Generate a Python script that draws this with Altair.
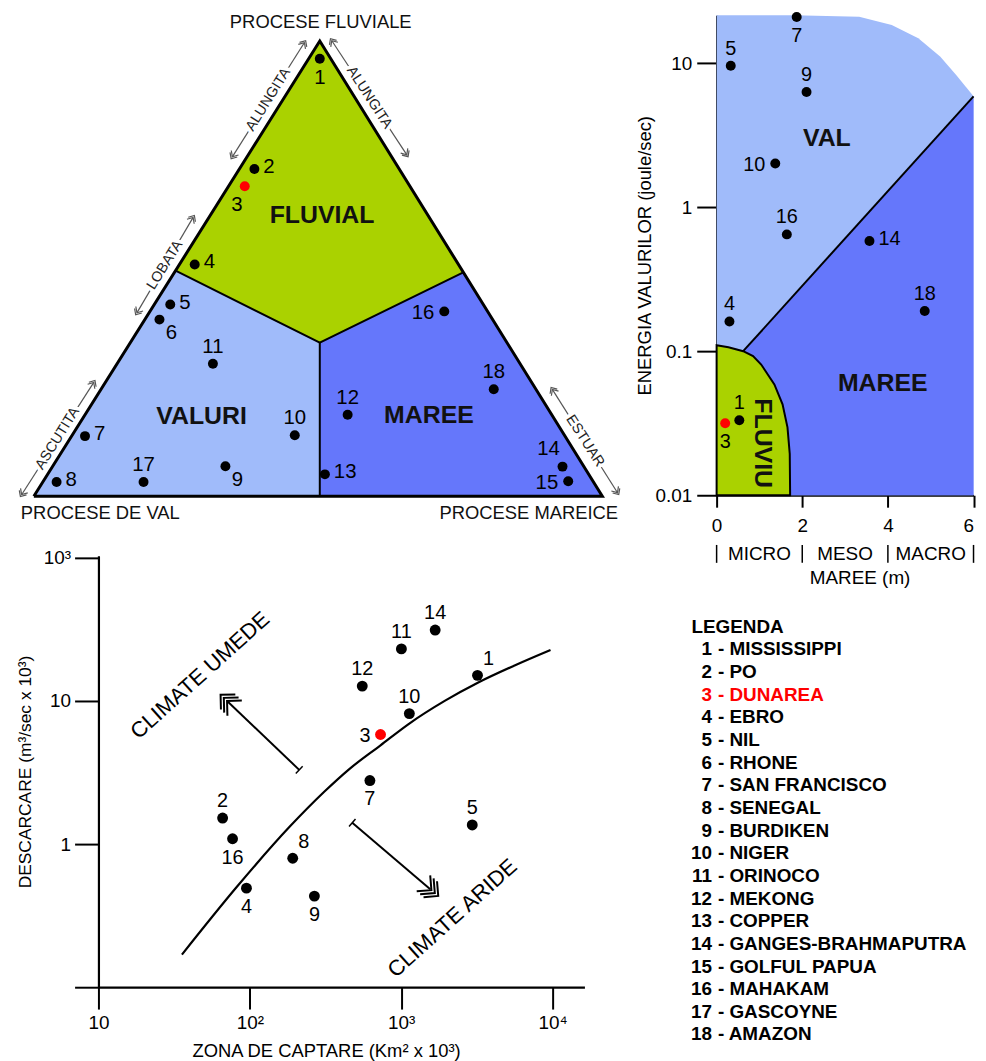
import altair as alt
import pandas as pd

FONT = "Liberation Sans"
RED = "#ff0000"
GREEN = "#aad200"
LIGHT = "#a0bbfa"
BLUE = "#6577fb"

# ================= DATA =================
# ---- ternary diagram (normalised triangle coords: base 0..1, apex height 1) ----
tern_ids = list(range(1, 19))
tern_u = [0.503, 0.388, 0.371, 0.283, 0.240, 0.221, 0.090, 0.040, 0.337,
          0.459, 0.315, 0.552, 0.512, 0.930, 0.940, 0.722, 0.193, 0.809]
tern_v = [0.961, 0.719, 0.681, 0.509, 0.421, 0.388, 0.132, 0.031, 0.066,
          0.134, 0.291, 0.179, 0.048, 0.065, 0.033, 0.406, 0.031, 0.235]
tern_pos = ["b", "r", "bl", "r", "r", "br", "r", "r", "br",
            "a", "a", "a", "r", "al", "l", "l", "a", "a"]

fl_u = [0.2493, 0.503, 0.7555]
fl_top = [0.4956, 1.0, 0.4919]
fl_bot = [0.4956, 0.3373, 0.4919]
va_u = [0.0, 0.2493, 0.503]
va_top = [0.0, 0.4956, 0.3373]
ma_u = [0.503, 0.7555, 1.0]
ma_top = [0.3373, 0.4919, 0.0]

tri_u = [0.0, 0.503, 1.0, 0.0]
tri_v = [0.0, 1.0, 0.0, 0.0]
inner_u = [0.2493, 0.503, 0.7555]
inner_v = [0.4956, 0.3373, 0.4919]
div_u = [0.503, 0.503]
div_v = [0.3373, 0.0]

side_text = ["ALUNGITA", "LOBATA", "ASCUTITA", "ALUNGITA", "ESTUAR"]
side_u1 = [0.3497, 0.1818, -0.021, 0.5245, 0.9126]
side_v1 = [0.7467, 0.4039, 0.0044, 1.0, 0.2336]
side_u2 = [0.4755, 0.2797, 0.1049, 0.6556, 1.0262]
side_v2 = [0.9956, 0.6114, 0.2489, 0.7511, 0.0087]
side_side = ["left", "left", "left", "right", "right"]

tern_regions = ["FLUVIAL", "VALURI", "MAREE"]
tern_reg_u = [0.507, 0.295, 0.695]
tern_reg_v = [0.618, 0.177, 0.179]
corner_text = ["PROCESE FLUVIALE", "PROCESE DE VAL", "PROCESE MAREICE"]
corner_u = [0.5047, 0.117, 0.8706]
corner_v = [1.0415, -0.0371, -0.0371]

# ---- tide / wave energy diagram ----
tide_ids = [1, 3, 4, 5, 7, 9, 10, 14, 16, 18]
tide_x = [0.53, 0.20, 0.30, 0.33, 1.87, 2.10, 1.37, 3.57, 1.64, 4.86]
tide_y = [0.0332, 0.0316, 0.161, 9.6, 20.9, 6.3, 2.01, 0.583, 0.647, 0.19]
tide_pos = ["a", "b", "a", "a", "b", "a", "l", "r", "a", "a"]

val_x = [0.0, 1.81, 3.33, 4.09, 4.71, 5.22, 5.59, 6.0]
val_top = [21.5, 21.5, 20.96, 18.4, 14.9, 11.1, 8.3, 5.88]
mar_x = [0.62, 6.0]
mar_top = [0.1, 5.88]
flv_x = [0.0, 0.276, 0.621, 0.851, 1.041, 1.349, 1.54, 1.655, 1.708, 1.717]
flv_top = [0.110, 0.1066, 0.1, 0.0924, 0.0808, 0.0588, 0.0428, 0.0296, 0.0194, 0.01]

tide_regions = ["VAL", "MAREE", "FLUVIU"]
tide_reg_x = [2.575, 3.88, 1.08]
tide_reg_y = [3.04, 0.0598, 0.023]
tide_xticks = [0, 2, 4, 6]
tide_yticks = [0.01, 0.1, 1, 10]
range_names = ["MICRO", "MESO", "MACRO"]
range_centers = [1, 3, 5]

# ---- discharge vs catchment ----
dis_ids = [1, 2, 3, 4, 5, 7, 8, 9, 10, 11, 12, 14, 16]
dis_area = [3191, 66.1, 730, 95, 2946, 621, 192, 267, 1132, 1003, 553, 1676, 76.9]
dis_flow = [15.1, 1.52, 5.83, 0.492, 1.36, 2.78, 0.796, 0.433, 8.16, 23.1, 12.7, 31.3, 1.09]
dis_pos = ["ar", "a", "l", "b", "a", "b", "ar", "b", "a", "a", "a", "a", "b"]

curve_x = [35.6, 82.4, 183, 310, 452, 730, 1119, 1950, 3229, 5610, 9690]
curve_y = [0.169, 0.505, 1.32, 2.32, 3.33, 4.9, 6.9, 10.05, 13.46, 17.7, 22.7]

arrow_names = ["CLIMATE UMEDE", "CLIMATE ARIDE"]
arrow_x1 = [212, 475]
arrow_y1 = [3.30, 1.41]
arrow_x2 = [71.9, 1556]
arrow_y2 = [9.84, 0.484]
arrow_dir = [223.6, 40.3]
arrow_text_x = [46.9, 2178]
arrow_text_y = [15.1, 0.304]

dis_xticks = [10, 100, 1000, 10000]
dis_xlabels = ["10", "10²", "10³", "10⁴"]
dis_yticks = [0.1, 1, 10, 100]
dis_ylabels = ["", "1", "10", "10³"]

# ---- legend ----
legend_names = ["MISSISSIPPI", "PO", "DUNAREA", "EBRO", "NIL", "RHONE",
                "SAN FRANCISCO", "SENEGAL", "BURDIKEN", "NIGER", "ORINOCO",
                "MEKONG", "COPPER", "GANGES-BRAHMAPUTRA", "GOLFUL PAPUA",
                "MAHAKAM", "GASCOYNE", "AMAZON"]

# ================= HELPERS =================
OFFS = {
    "a": dict(dx=0, dy=-17, align="center"),
    "b": dict(dx=0, dy=19, align="center"),
    "r": dict(dx=9, dy=-2, align="left"),
    "l": dict(dx=-10, dy=2, align="right"),
    "bl": dict(dx=-8, dy=19, align="center"),
    "br": dict(dx=12, dy=14, align="center"),
    "al": dict(dx=-14, dy=-18, align="center"),
    "ar": dict(dx=11, dy=-16, align="center"),
}


def point_layers(df, X, Y, size, fsize):
    layers = [alt.Chart(df).mark_circle(size=size, opacity=1).encode(
        x=X, y=Y,
        color=alt.condition(alt.datum.id == 3, alt.value(RED), alt.value("black")))]
    for c in sorted(set(df["pos"])):
        o = OFFS[c]
        layers.append(
            alt.Chart(df).transform_filter(alt.datum.pos == c).mark_text(
                font=FONT, fontSize=fsize, baseline="middle", color="black", **o
            ).encode(x=X, y=Y, text="label:N"))
    return layers


def label_expr(values, labels):
    parts = " : ".join(f"datum.value == {v} ? '{l}'" for v, l in zip(values, labels))
    return parts + " : ''"


CHEV3 = "M-0.6,-0.7L0.1,0L-0.6,0.7M-0.3,-0.7L0.4,0L-0.3,0.7M0,-0.7L0.7,0L0,0.7"
CHEV2 = "M-0.9,-0.9L0.1,0L-0.9,0.9M-0.4,-0.9L0.6,0L-0.4,0.9"
BAR = "M0,-1L0,1"

# ================= TERNARY =================
# plot area starts where the discharge plot starts (concat columns align plot origins);
# the triangle's left part is drawn to the left of that origin
TXS = alt.Scale(domain=[0.11364, 1.04371], nice=False, zero=False)
TYS = alt.Scale(domain=[-0.0787, 1.0567], nice=False, zero=False)
TX = alt.X("x:Q", scale=TXS, axis=None)
TY = alt.Y("y:Q", scale=TYS, axis=None, stack=None)

rows = []
for name, us, tops, bots in [("VALURI", va_u, va_top, [0.0] * 3),
                             ("MAREE", ma_u, ma_top, [0.0] * 3),
                             ("FLUVIAL", fl_u, fl_top, fl_bot)]:
    for a, b, c in zip(us, tops, bots):
        rows.append(dict(region=name, x=a, y=b, y0=c))
t_areas = alt.Chart(pd.DataFrame(rows)).mark_area(opacity=1).encode(
    x=TX, y=TY, y2="y0:Q", detail="region:N",
    color=alt.Color("region:N", legend=None,
                    scale=alt.Scale(domain=["VALURI", "MAREE", "FLUVIAL"], range=[LIGHT, BLUE, GREEN])))

outline_df = pd.DataFrame({"x": tri_u, "y": tri_v, "o": range(len(tri_u))})
t_outline = alt.Chart(outline_df).mark_line(color="black", strokeWidth=3, strokeJoin="miter").encode(
    x=TX, y=TY, order="o:Q")
inner_rows = [dict(seg="a", x=a, y=b, o=i) for i, (a, b) in enumerate(zip(inner_u, inner_v))]
inner_rows += [dict(seg="b", x=a, y=b, o=i) for i, (a, b) in enumerate(zip(div_u, div_v))]
t_inner = alt.Chart(pd.DataFrame(inner_rows)).mark_line(color="black", strokeWidth=2).encode(
    x=TX, y=TY, detail="seg:N", order="o:Q")

side_df = pd.DataFrame({"text": side_text, "x": side_u1, "y": side_v1,
                        "x2": side_u2, "y2": side_v2, "side": side_side})
side_df["tx"] = (side_df["x"] + side_df["x2"]) / 2
side_df["ty"] = (side_df["y"] + side_df["y2"]) / 2
side_df["tang"] = [302 if s == "left" else 57 for s in side_side]
t_side_rule = alt.Chart(side_df).mark_rule(color="#555555", strokeWidth=1.2).encode(
    x=TX, y=TY, x2="x2:Q", y2="y2:Q")
head_rows = []
for a, b, c, d, s in zip(side_u1, side_v1, side_u2, side_v2, side_side):
    head_rows.append(dict(x=a, y=b, ang=122 if s == "left" else 237))
    head_rows.append(dict(x=c, y=d, ang=302 if s == "left" else 57))
t_side_heads = alt.Chart(pd.DataFrame(head_rows)).mark_point(
    shape=CHEV2, size=90, filled=False, color="#555555", strokeWidth=1.2, opacity=1).encode(
    x=TX, y=TY, angle=alt.Angle("ang:Q", scale=None))
t_side_halo = alt.Chart(side_df).mark_text(
    font=FONT, fontSize=14.5, stroke="white", strokeWidth=7, color="white", baseline="middle").encode(
    x=alt.X("tx:Q", scale=TXS, axis=None), y=alt.Y("ty:Q", scale=TYS, axis=None),
    text="text:N", angle=alt.Angle("tang:Q", scale=None))
t_side_text = alt.Chart(side_df).mark_text(
    font=FONT, fontSize=14.5, color="#222222", baseline="middle").encode(
    x=alt.X("tx:Q", scale=TXS, axis=None), y=alt.Y("ty:Q", scale=TYS, axis=None),
    text="text:N", angle=alt.Angle("tang:Q", scale=None))

tern_df = pd.DataFrame({"id": tern_ids, "x": tern_u, "y": tern_v, "pos": tern_pos})
tern_df["label"] = tern_df["id"].astype(str)
t_points = point_layers(tern_df, TX, TY, 100, 20.5)

t_reg = alt.Chart(pd.DataFrame({"x": tern_reg_u, "y": tern_reg_v, "t": tern_regions})).mark_text(
    font=FONT, fontSize=25, fontWeight="bold", color="#111111", baseline="middle").encode(
    x=TX, y=TY, text="t:N")
t_corner = alt.Chart(pd.DataFrame({"x": corner_u, "y": corner_v, "t": corner_text})).mark_text(
    font=FONT, fontSize=18.5, color="#111111", baseline="middle").encode(
    x=TX, y=TY, text="t:N")

tern = alt.layer(t_areas, t_inner, t_outline, t_side_rule, t_side_heads, t_side_halo,
                 t_side_text, *t_points, t_reg, t_corner).properties(width=532, height=520)

# ================= TIDE / WAVE =================
WX = alt.X("x:Q", scale=alt.Scale(domain=[0, 6], nice=False, zero=False),
           axis=alt.Axis(values=tide_xticks, title=None, tickSize=12, labelPadding=9,
                         labelFontSize=19, labelFlush=False, labelOverlap=False,
                         labelAlign={"condition": {"test": "datum.value == 6", "value": "right"},
                                     "value": "center"}))
WY = alt.Y("y:Q", scale=alt.Scale(type="log", domain=[0.01, 21.5], nice=False),
           axis=alt.Axis(values=tide_yticks, format="~g", title="ENERGIA VALURILOR (joule/sec)",
                         titleX=-73, titleBaseline="middle", titleFontSize=18.5, tickSize=20,
                         labelPadding=5, labelFontSize=19, labelFlush=False, labelOverlap=False),
           stack=None)

w_val = alt.Chart(pd.DataFrame({"x": val_x, "y": val_top, "y0": [0.01] * len(val_x)})).mark_area(
    color=LIGHT, opacity=1).encode(x=WX, y=WY, y2="y0:Q")
w_mar = alt.Chart(pd.DataFrame({"x": mar_x, "y": mar_top, "y0": [0.01] * len(mar_x)})).mark_area(
    color=BLUE, opacity=1).encode(x=WX, y=WY, y2="y0:Q")
w_diag = alt.Chart(pd.DataFrame({"x": mar_x, "y": mar_top})).mark_line(
    color="black", strokeWidth=2).encode(x=WX, y=WY)
w_flv = alt.Chart(pd.DataFrame({"x": flv_x, "y": flv_top, "y0": [0.01] * len(flv_x)})).mark_area(
    color=GREEN, opacity=1, stroke="black", strokeWidth=2).encode(x=WX, y=WY, y2="y0:Q")

tide_df = pd.DataFrame({"id": tide_ids, "x": tide_x, "y": tide_y, "pos": tide_pos})
tide_df["label"] = tide_df["id"].astype(str)
w_points = point_layers(tide_df, WX, WY, 100, 20)

reg_df = pd.DataFrame({"x": tide_reg_x, "y": tide_reg_y, "t": tide_regions,
                       "a": [0, 0, 90]})
w_reg = alt.Chart(reg_df).mark_text(
    font=FONT, fontSize=25, fontWeight="bold", color="#111111", baseline="middle").encode(
    x=WX, y=WY, text="t:N", angle=alt.Angle("a:Q", scale=None))

bars_df = pd.DataFrame({"x": tide_xticks})
w_bars = alt.Chart(bars_df).mark_rule(color="black", strokeWidth=1.5).encode(
    x=WX, y=alt.value(533), y2=alt.value(551))
names_df = pd.DataFrame({"x": range_centers, "t": range_names})
w_names = alt.Chart(names_df).mark_text(font=FONT, fontSize=19, color="black", baseline="middle").encode(
    x=WX, y=alt.value(542), text="t:N")
w_title = alt.Chart(pd.DataFrame({"x": [3.35], "t": ["MAREE (m)"]})).mark_text(
    font=FONT, fontSize=19, color="black", baseline="middle").encode(
    x=WX, y=alt.value(566), text="t:N")

tide = alt.layer(w_val, w_mar, w_diag, w_flv, *w_points, w_reg, w_bars, w_names, w_title).properties(
    width=258.5, height=483)

# ================= DISCHARGE =================
DX = alt.X("x:Q", scale=alt.Scale(type="log", domain=[10, 16230], nice=False),
           axis=alt.Axis(values=dis_xticks, labelExpr=label_expr(dis_xticks, dis_xlabels),
                         title="ZONA DE CAPTARE (Km² x 10³)", titleX=229, titleY=64,
                         titleBaseline="middle", titleFontSize=18.5, tickSize=22, labelPadding=5,
                         labelFontSize=19, labelFlush=False, labelOverlap=False))
DY = alt.Y("y:Q", scale=alt.Scale(type="log", domain=[0.1, 103.2], nice=False),
           axis=alt.Axis(values=dis_yticks, labelExpr=label_expr(dis_yticks, dis_ylabels),
                         title="DESCARCARE (m³/sec x 10³)", titleX=-73, titleBaseline="middle",
                         titleFontSize=17.5, tickSize=24, labelPadding=4, labelFontSize=19,
                         labelFlush=False, labelOverlap=False))

d_curve = alt.Chart(pd.DataFrame({"x": curve_x, "y": curve_y, "o": range(len(curve_x))})).mark_line(
    color="black", strokeWidth=2.2, interpolate="monotone").encode(x=DX, y=DY, order="o:Q")

arr_df = pd.DataFrame({"x": arrow_x1, "y": arrow_y1, "x2": arrow_x2, "y2": arrow_y2, "ang": arrow_dir})
d_arr = alt.Chart(arr_df).mark_rule(color="black", strokeWidth=2).encode(
    x=DX, y=DY, x2="x2:Q", y2="y2:Q")
d_bar = alt.Chart(arr_df).mark_point(shape=BAR, size=100, filled=False, color="black",
                                     strokeWidth=1.5, opacity=1).encode(
    x=DX, y=DY, angle=alt.Angle("ang:Q", scale=None))
head_df = pd.DataFrame({"x": arrow_x2, "y": arrow_y2, "ang": arrow_dir})
d_head = alt.Chart(head_df).mark_point(shape=CHEV3, size=900, filled=False, color="black",
                                       strokeWidth=2, opacity=1).encode(
    x=DX, y=DY, angle=alt.Angle("ang:Q", scale=None))
d_atext = alt.Chart(pd.DataFrame({"x": arrow_text_x, "y": arrow_text_y, "t": arrow_names})).mark_text(
    font=FONT, fontSize=22, color="black", baseline="middle", angle=318).encode(
    x=DX, y=DY, text="t:N")

dis_df = pd.DataFrame({"id": dis_ids, "x": dis_area, "y": dis_flow, "pos": dis_pos})
dis_df["label"] = dis_df["id"].astype(str)
d_points = point_layers(dis_df, DX, DY, 120, 20)

dis = alt.layer(d_curve, d_arr, d_bar, d_head, d_atext, *d_points).properties(width=489, height=434)

# ================= LEGEND =================
leg_df = pd.DataFrame({"row": list(range(1, 19)),
                       "num": [str(i) for i in range(1, 19)],
                       "name": ["- " + n for n in legend_names]})
LY = alt.Y("row:Q", scale=alt.Scale(domain=[-0.5, 18.5], reverse=True, nice=False, zero=False), axis=None)
leg_color = alt.condition(alt.datum.row == 3, alt.value(RED), alt.value("black"))
l_num = alt.Chart(leg_df).mark_text(font=FONT, fontSize=19, fontWeight="bold", align="right",
                                    baseline="middle").encode(
    x=alt.value(-4.7), y=LY, text="num:N", color=leg_color)
l_name = alt.Chart(leg_df).mark_text(font=FONT, fontSize=19, fontWeight="bold", align="left",
                                     baseline="middle").encode(
    x=alt.value(1.3), y=LY, text="name:N", color=leg_color)
l_head = alt.Chart(pd.DataFrame({"row": [0], "t": ["LEGENDA"]})).mark_text(
    font=FONT, fontSize=19, fontWeight="bold", align="left", baseline="middle", color="black").encode(
    x=alt.value(-25.3), y=LY, text="t:N")
leg = alt.layer(l_head, l_num, l_name).properties(width=250, height=433)

# ================= ASSEMBLY =================
left = alt.vconcat(tern, dis, spacing=15)
right = alt.vconcat(tide, leg, spacing=26)
chart = alt.hconcat(left, right, spacing=6).properties(
    padding={"left": 8, "top": 0, "right": 0, "bottom": 0}
).configure_view(stroke="transparent").configure_axis(
    grid=False, domainColor="black", domainWidth=2.2, tickColor="black", tickWidth=2,
    labelColor="black", labelFont=FONT, titleFont=FONT, titleColor="black",
    titleFontWeight="normal"
)

chart.save("out.html", embed_options={"renderer": "svg", "actions": False})
